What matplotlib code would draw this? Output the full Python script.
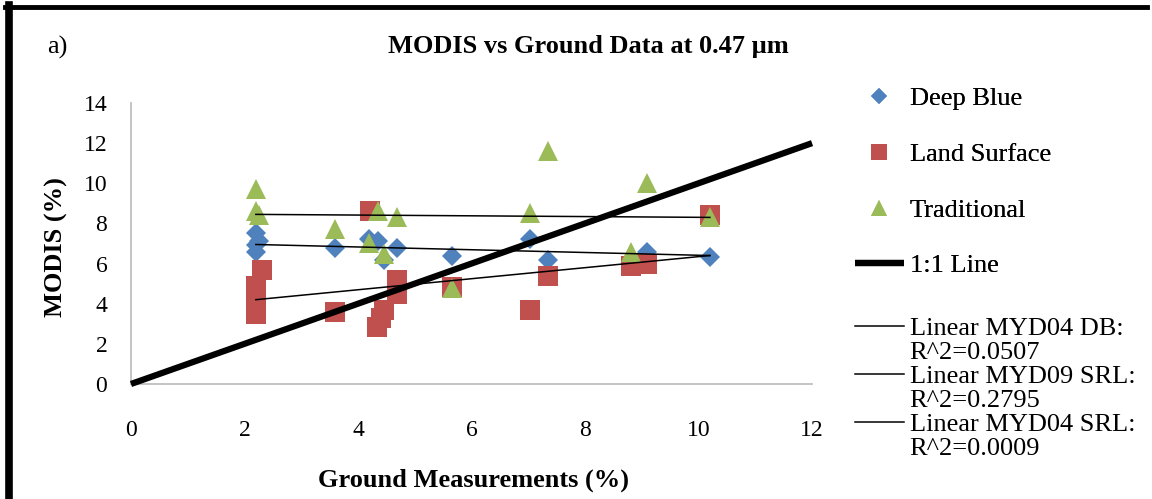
import numpy as np
import matplotlib
matplotlib.use("Agg")
import matplotlib.pyplot as plt
from matplotlib.lines import Line2D

# ── data ───────────────────────────────────────────────────────────────────────
DB_X = [2.2, 2.25, 2.2, 2.2, 3.6, 4.2, 4.35, 4.45, 4.68, 5.66, 7.03, 7.34, 9.09, 10.2]
DB_Y = [7.5, 7.1, 6.6, 6.9, 6.8, 7.2, 7.1, 6.2, 6.8, 6.4, 7.2, 6.2, 6.6, 6.35]

LS_X = [2.2, 2.2, 2.2, 2.3, 3.6, 4.21, 4.33, 4.4, 4.45, 4.68, 4.68, 5.66, 7.03,
        7.34, 8.81, 9.09, 10.2]
LS_Y = [3.5, 4.2, 4.9, 5.7, 3.6, 8.6, 2.85, 3.3, 3.7, 4.5, 5.2, 4.85, 3.7,
        5.4, 5.9, 6.0, 8.4]

TR_X = [2.2, 2.2, 2.25, 3.6, 4.2, 4.36, 4.45, 4.68, 5.66, 7.03, 7.34, 8.81, 9.09, 10.2]
TR_Y = [9.7, 8.6, 8.4, 7.7, 7.0, 8.6, 6.5, 8.3, 4.8, 8.5, 11.6, 6.6, 10.0, 8.3]

# linear trendlines as drawn in the original (ends at min / max ground value)
TREND_X = [2.2, 10.2]
TREND_DB = [6.95, 6.4]
TREND_LS = [4.2, 6.4]
TREND_TR = [8.45, 8.3]

ONE_TO_ONE = [0, 12]

SERIES_NAMES = ["Deep Blue", "Land Surface", "Traditional"]
TREND_LABELS = [("Linear MYD04 DB:", "R^2=0.0507"),
                ("Linear MYD09 SRL:", "R^2=0.2795"),
                ("Linear MYD04 SRL:", "R^2=0.0009")]

X_TICKS = [0, 2, 4, 6, 8, 10, 12]
Y_TICKS = [0, 2, 4, 6, 8, 10, 12, 14]

BLUE, RED, GREEN = "#4F81BD", "#C0504D", "#9BBB59"

plt.rcParams["font.family"] = ["Liberation Serif", "DejaVu Serif"]

fig = plt.figure(figsize=(11.52, 4.99), dpi=100)
ax = fig.add_axes([0.1137, 0.2305, 0.7049 - 0.1137, 0.7936 - 0.2305])

# ── scatter series ─────────────────────────────────────────────────────────────
h_db, = ax.plot(DB_X, DB_Y, ls="none", marker="D", ms=10.5, color=BLUE, mew=0, zorder=3)
h_ls, = ax.plot(LS_X, LS_Y, ls="none", marker="s", ms=14, color=RED, mew=0, zorder=3)
h_tr, = ax.plot(TR_X, TR_Y, ls="none", marker="^", ms=14, color=GREEN, mew=0, zorder=3)

# ── 1:1 line ───────────────────────────────────────────────────────────────────
h_11, = ax.plot(ONE_TO_ONE, ONE_TO_ONE, color="black", lw=4.5, zorder=4,
                solid_capstyle="butt", clip_on=False)

# ── linear trendlines ──────────────────────────────────────────────────────────
trend_handles = []
for ys in (TREND_DB, TREND_LS, TREND_TR):
    h, = ax.plot(TREND_X, ys, color="black", lw=1.1, zorder=5)
    trend_handles.append(h)

# ── axes styling ───────────────────────────────────────────────────────────────
ax.set_xlim(0, 12)
ax.set_ylim(0, 14)
ax.set_xticks(X_TICKS)
ax.set_yticks(Y_TICKS)
ax.tick_params(axis="both", length=0, labelsize=17)
ax.tick_params(axis="x", pad=26)
ax.tick_params(axis="y", pad=17)
for side in ("top", "right"):
    ax.spines[side].set_visible(False)
for side in ("left", "bottom"):
    ax.spines[side].set_color("#BFBFBF")
    ax.spines[side].set_linewidth(1.3)

fig.text(473 / 1152, 1 - 480 / 499, "Ground Measurements (%)", ha="center",
         va="center", fontsize=19, fontweight="bold")
fig.text(56 / 1152, 1 - 247 / 499, "MODIS (%)", ha="center", va="center",
         rotation=90, fontsize=19, fontweight="bold")
fig.text(588 / 1152, 1 - 47 / 499, "MODIS vs Ground Data at 0.47 µm",
         ha="center", va="center", fontsize=19, fontweight="bold")
fig.text(57 / 1152, 1 - 47 / 499, "a)", ha="center", va="center", fontsize=19)

# ── legends ────────────────────────────────────────────────────────────────────
leg1 = fig.legend([h_db, h_ls, h_tr, h_11], SERIES_NAMES + ["1:1 Line"],
                  loc="upper left", bbox_to_anchor=(855 / 1152, 1 - 87 / 499),
                  frameon=False, fontsize=19, borderpad=0, borderaxespad=0,
                  handlelength=1.85, handletextpad=0.22, labelspacing=1.22,
                  markerscale=0.8)

blank = Line2D([], [], ls="none", marker=None)
handles2, labels2 = [], []
for h, (l1, l2) in zip(trend_handles, TREND_LABELS):
    handles2 += [h, blank]
    labels2 += [l1, l2]
leg2 = fig.legend(handles2, labels2, loc="upper left",
                  bbox_to_anchor=(855 / 1152, 1 - 317 / 499),
                  frameon=False, fontsize=19, borderpad=0, borderaxespad=0,
                  handlelength=1.85, handletextpad=0.22, labelspacing=0.02)
fig.add_artist(leg1)

# ── frame of the original figure (top and left edges only) ─────────────────────
fig.add_artist(Line2D([5 / 1152, 1147 / 1152], [1 - 7 / 499, 1 - 7 / 499],
                      color="black", lw=3.5, transform=fig.transFigure))
fig.add_artist(Line2D([9 / 1152, 9 / 1152], [0, 1 - 5 / 499],
                      color="black", lw=5.5, transform=fig.transFigure))

fig.savefig("out.png", dpi=100)
